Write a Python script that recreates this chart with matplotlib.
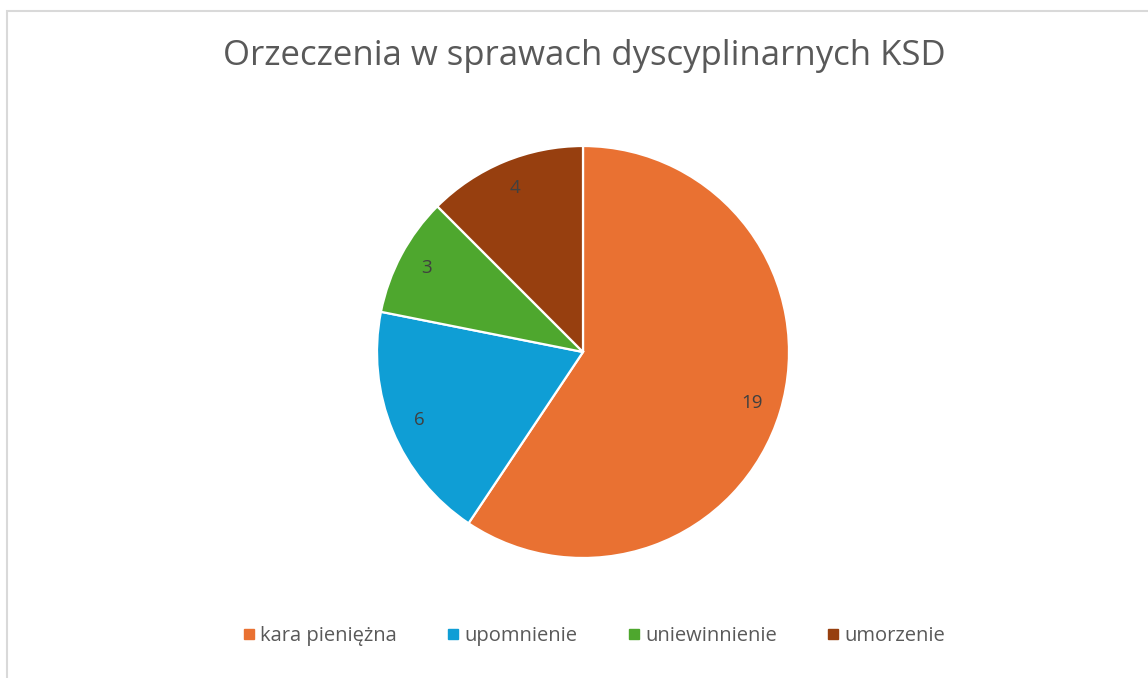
import matplotlib
matplotlib.use("Agg")
import matplotlib.pyplot as plt
import numpy as np
from matplotlib.lines import Line2D
from matplotlib.patches import Rectangle

categories = ["kara pieniężna", "upomnienie", "uniewinnienie", "umorzenie"]
values = [19, 6, 3, 4]
colors = ["#E97132", "#0F9ED5", "#4EA72E", "#973F0F"]
title = "Orzeczenia w sprawach dyscyplinarnych KSD"

TEXT = "#595959"
plt.rcParams["font.family"] = ["Open Sans", "DejaVu Sans"]

W, H = 1148, 678
fig = plt.figure(figsize=(W / 100, H / 100), dpi=100)

# chart-area frame (runs off the right and bottom edges, as in the source)
fig.patches.append(Rectangle((7 / W, -0.05), 1.2, 1 - 11 / H + 0.05,
                             transform=fig.transFigure, fill=False,
                             edgecolor="#D9D9D9", linewidth=1.5))

cx, cy, r = 583, 352, 206
ax = fig.add_axes([(cx - r) / W, (H - cy - r) / H, 2 * r / W, 2 * r / H])
ax.pie(values, colors=colors, startangle=90, counterclock=False, radius=1.0,
       wedgeprops=dict(edgecolor="white", linewidth=1.6))

# value labels placed inside each wedge, on its bisector
total = sum(values)
start = 90.0
for v in values:
    span = 360.0 * v / total
    mid = np.deg2rad(start - span / 2)
    ax.text(0.86 * np.cos(mid), 0.86 * np.sin(mid), str(v), ha="center",
            va="center", fontsize=13.5, color="#404040")
    start -= span
ax.set_xlim(-1, 1)
ax.set_ylim(-1, 1)
ax.axis("off")

fig.text(584 / W, 1 - 56 / H, title, ha="center", va="center",
         fontsize=25, color=TEXT)

handles = [Line2D([], [], marker="s", color="none", markerfacecolor=c,
                  markeredgecolor=c, markersize=6.5, label=lab)
           for c, lab in zip(colors, categories)]
fig.legend(handles=handles, loc="center", bbox_to_anchor=(592 / W, 1 - 636 / H),
           ncol=4, frameon=False, fontsize=14.5, labelcolor=TEXT,
           handletextpad=0.05, columnspacing=2.3, handlelength=1.0)

fig.savefig("out.png", dpi=100, facecolor="white")
